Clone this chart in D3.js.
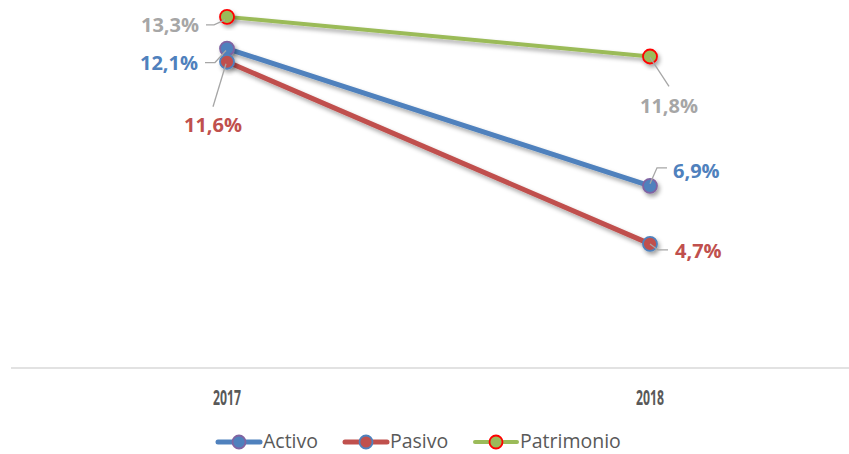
<!DOCTYPE html>
<html>
<head>
<meta charset="utf-8">
<script src="https://cdn.jsdelivr.net/npm/d3@7"></script>
<style>
  body { margin: 0; background: #fff; }
  svg { display: block; font-family: "Open Sans", Calibri, sans-serif; }
</style>
</head>
<body>
<div id="chart"></div>
<script>
// data
const years = ["2017", "2018"]
const activo = [12.1, 6.9]
const pasivo = [11.6, 4.7]
const patrimonio = [13.3, 11.8]

const w = 849
const h = 454

const series = [
  { name: "Activo", values: activo, line: "#4F81BD", fill: "#4F81BD", stroke: "#8064A2", label: "#4F81BD", width: 5 },
  { name: "Pasivo", values: pasivo, line: "#C0504D", fill: "#C0504D", stroke: "#4F81BD", label: "#C0504D", width: 5 },
  { name: "Patrimonio", values: patrimonio, line: "#9BBB59", fill: "#9BBB59", stroke: "#FF0000", label: "#A6A6A6", width: 4 }
]

// label placement relative to each point: text offset + leader path (offsets)
const labelPos = {
  Activo: [
    { dx: -29, dy: 14, anchor: "end", leader: [[-1, 2], [-12, 14], [-22, 14]] },
    { dx: 23, dy: -15, anchor: "start", leader: [[0, -2], [7, -18], [17, -18]] }
  ],
  Pasivo: [
    { dx: -14, dy: 63, anchor: "middle", leader: [[-1, 2], [-14, 45]] },
    { dx: 25, dy: 7, anchor: "start", leader: [[0, 0], [8, 6], [18, 6]] }
  ],
  Patrimonio: [
    { dx: -28, dy: 8, anchor: "end", leader: [[-2, 3], [-13, 8], [-21, 8]] },
    { dx: 19, dy: 49, anchor: "middle", leader: [[0, 1], [19, 30]] }
  ]
}

const x = d3.scalePoint()
  .domain(years)
  .range([227, 650])

const y = d3.scaleLinear()
  .domain([0, 14])
  .range([368, 368 - 14 * 26.4])

const svg = d3.select("#chart")
  .append("svg")
  .attr("width", w)
  .attr("height", h)

const defs = svg.append("defs")
const shadow = defs.append("filter")
  .attr("id", "shadow")
  .attr("x", "-50%").attr("y", "-50%")
  .attr("width", "200%").attr("height", "200%")
shadow.append("feDropShadow")
  .attr("dx", 2).attr("dy", 3)
  .attr("stdDeviation", 2)
  .attr("flood-color", "#000")
  .attr("flood-opacity", 0.35)

// x axis line
svg.append("line")
  .attr("x1", 11).attr("x2", w)
  .attr("y1", y(0)).attr("y2", y(0))
  .attr("stroke", "#D9D9D9")
  .attr("stroke-width", 1.5)

svg.selectAll(".tick-label")
  .data(years)
  .join("text")
  .attr("class", "tick-label")
  .attr("x", d => x(d))
  .attr("y", 397)
  .attr("dy", "0.36em")
  .attr("text-anchor", "middle")
  .attr("font-size", 21)
  .attr("font-weight", "bold")
  .attr("textLength", 28)
  .attr("lengthAdjust", "spacingAndGlyphs")
  .attr("fill", "#595959")
  .text(d => d)

const line = d3.line()
  .x((d, i) => x(years[i]))
  .y(d => y(d))

// lines
series.forEach(s => {
  svg.append("path")
    .datum(s.values)
    .attr("d", line)
    .attr("fill", "none")
    .attr("stroke", s.line)
    .attr("stroke-width", s.width)
    .attr("stroke-linecap", "round")
    .attr("filter", "url(#shadow)")
})

// markers
series.forEach(s => {
  svg.selectAll(null)
    .data(s.values)
    .join("circle")
    .attr("cx", (d, i) => x(years[i]))
    .attr("cy", d => y(d))
    .attr("r", 7)
    .attr("fill", s.fill)
    .attr("stroke", s.stroke)
    .attr("stroke-width", 1.8)
    .attr("filter", "url(#shadow)")
})

// labels + leaders
const fmt = v => d3.format(".1f")(v).replace(".", ",") + "%"

series.forEach(s => {
  s.values.forEach((v, i) => {
    const px = x(years[i])
    const py = y(v)
    const p = labelPos[s.name][i]
    svg.append("path")
      .attr("d", d3.line()(p.leader.map(o => [px + o[0], py + o[1]])))
      .attr("fill", "none")
      .attr("stroke", "#A6A6A6")
      .attr("stroke-width", 1.3)
    svg.append("text")
      .attr("x", px + p.dx)
      .attr("y", py + p.dy)
      .attr("dy", "0.36em")
      .attr("text-anchor", p.anchor)
      .attr("font-size", 20)
      .attr("font-weight", "bold")
      .attr("fill", s.label)
      .text(fmt(v))
  })
})

// legend
const legendX = [218, 345, 475]
const legend = svg.selectAll(".legend-item")
  .data(series)
  .join("g")
  .attr("class", "legend-item")
  .attr("transform", (d, i) => `translate(${legendX[i]},442)`)

legend.append("line")
  .attr("x1", 0).attr("x2", 42)
  .attr("stroke", d => d.line)
  .attr("stroke-width", d => d.width)
  .attr("stroke-linecap", "round")

legend.append("circle")
  .attr("cx", 21)
  .attr("r", 6.5)
  .attr("fill", d => d.fill)
  .attr("stroke", d => d.stroke)
  .attr("stroke-width", 1.8)

legend.append("text")
  .attr("x", 45)
  .attr("y", 5.5)
  .attr("font-size", 19.5)
  .attr("fill", "#595959")
  .text(d => d.name)
</script>
</body>
</html>
